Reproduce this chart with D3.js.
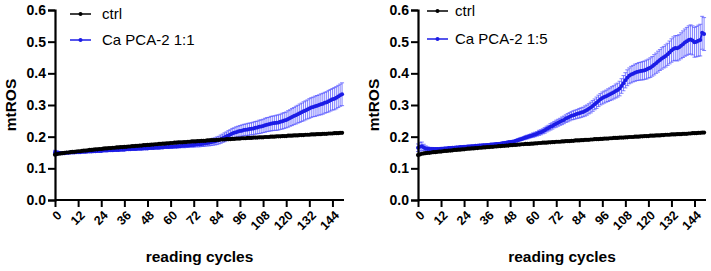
<!DOCTYPE html>
<html><head><meta charset="utf-8">
<script src="https://cdn.jsdelivr.net/npm/d3@7"></script>
<style>body{margin:0;background:#fff}svg{display:block}text{font-family:"Liberation Sans",Arial,sans-serif}</style>
</head><body>
<svg id="chart" width="711" height="271"></svg>
<script>
const xTicks = [0,12,24,36,48,60,72,84,96,108,120,132,144];
const yTicks = [0.0,0.1,0.2,0.3,0.4,0.5,0.6];
const yLabel = "mtROS";
const xLabel = "reading cycles";
const panelNames = ["ctrl","Ca PCA-2 1:1","Ca PCA-2 1:5"];

const ctrl1 = [
0.143,0.145,0.146,0.147,0.148,0.149,0.150,0.150,0.151,0.152,
0.152,0.153,0.154,0.154,0.155,0.156,0.156,0.157,0.158,0.158,
0.159,0.160,0.160,0.161,0.161,0.162,0.163,0.163,0.164,0.164,
0.165,0.165,0.166,0.166,0.167,0.167,0.168,0.168,0.169,0.169,
0.170,0.170,0.171,0.171,0.172,0.172,0.173,0.173,0.174,0.174,
0.175,0.175,0.176,0.176,0.177,0.177,0.178,0.178,0.179,0.179,
0.180,0.180,0.181,0.181,0.182,0.182,0.182,0.183,0.183,0.184,
0.184,0.185,0.185,0.185,0.186,0.186,0.187,0.187,0.187,0.188,
0.188,0.189,0.189,0.189,0.190,0.190,0.191,0.191,0.191,0.192,
0.192,0.192,0.193,0.193,0.194,0.194,0.194,0.195,0.195,0.195,
0.196,0.196,0.196,0.197,0.197,0.197,0.198,0.198,0.198,0.199,
0.199,0.199,0.200,0.200,0.200,0.201,0.201,0.201,0.202,0.202,
0.202,0.203,0.203,0.203,0.204,0.204,0.204,0.205,0.205,0.205,
0.206,0.206,0.206,0.207,0.207,0.207,0.208,0.208,0.208,0.209,
0.209,0.209,0.210,0.210,0.210,0.211,0.211,0.211,0.212,0.212];

const treat1 = [
0.151,0.150,0.149,0.148,0.148,0.148,0.149,0.149,0.150,0.150,
0.150,0.151,0.151,0.151,0.152,0.152,0.152,0.153,0.153,0.153,
0.154,0.154,0.155,0.155,0.155,0.156,0.156,0.156,0.157,0.157,
0.157,0.158,0.158,0.158,0.159,0.159,0.159,0.160,0.160,0.160,
0.161,0.161,0.161,0.162,0.162,0.162,0.163,0.163,0.163,0.164,
0.164,0.164,0.165,0.165,0.165,0.166,0.166,0.167,0.167,0.167,
0.168,0.168,0.169,0.169,0.170,0.170,0.171,0.171,0.172,0.172,
0.173,0.174,0.174,0.175,0.176,0.176,0.177,0.178,0.179,0.180,
0.181,0.182,0.184,0.185,0.187,0.189,0.192,0.195,0.198,0.201,
0.204,0.207,0.210,0.212,0.214,0.216,0.218,0.219,0.221,0.222,
0.223,0.224,0.225,0.226,0.228,0.229,0.231,0.232,0.234,0.236,
0.238,0.239,0.241,0.242,0.243,0.244,0.245,0.247,0.249,0.251,
0.253,0.256,0.259,0.262,0.265,0.268,0.271,0.274,0.277,0.280,
0.283,0.286,0.289,0.292,0.294,0.296,0.298,0.300,0.302,0.304,
0.307,0.309,0.312,0.315,0.318,0.320,0.323,0.327,0.331,0.334];

const err1 = [
0.006,0.005,0.004,0.004,0.003,0.003,0.003,0.003,0.003,0.003,
0.003,0.003,0.003,0.003,0.003,0.003,0.003,0.003,0.003,0.003,
0.003,0.003,0.003,0.003,0.003,0.003,0.003,0.003,0.003,0.003,
0.003,0.003,0.003,0.003,0.003,0.003,0.003,0.003,0.003,0.003,
0.003,0.003,0.003,0.003,0.003,0.003,0.003,0.003,0.003,0.003,
0.003,0.003,0.003,0.003,0.003,0.003,0.003,0.003,0.003,0.003,
0.004,0.004,0.004,0.005,0.005,0.005,0.005,0.006,0.006,0.006,
0.006,0.007,0.007,0.007,0.008,0.008,0.008,0.009,0.009,0.009,
0.010,0.010,0.011,0.011,0.012,0.012,0.013,0.013,0.014,0.014,
0.015,0.015,0.016,0.016,0.017,0.017,0.017,0.018,0.018,0.018,
0.019,0.019,0.019,0.020,0.020,0.020,0.021,0.021,0.021,0.022,
0.022,0.022,0.023,0.023,0.023,0.024,0.024,0.024,0.025,0.025,
0.025,0.026,0.026,0.027,0.027,0.028,0.028,0.029,0.029,0.030,
0.030,0.030,0.031,0.031,0.031,0.032,0.032,0.032,0.033,0.033,
0.033,0.033,0.034,0.034,0.034,0.035,0.035,0.035,0.035,0.036];

const ctrl2 = [
0.142,0.144,0.146,0.147,0.148,0.149,0.149,0.150,0.151,0.151,
0.152,0.153,0.153,0.154,0.155,0.155,0.156,0.156,0.157,0.158,
0.158,0.159,0.159,0.160,0.160,0.161,0.162,0.162,0.163,0.163,
0.164,0.164,0.165,0.165,0.166,0.166,0.167,0.167,0.168,0.168,
0.169,0.169,0.170,0.170,0.171,0.171,0.172,0.172,0.173,0.173,
0.174,0.174,0.175,0.175,0.176,0.176,0.177,0.177,0.177,0.178,
0.178,0.179,0.179,0.180,0.180,0.181,0.181,0.181,0.182,0.182,
0.183,0.183,0.184,0.184,0.184,0.185,0.185,0.186,0.186,0.186,
0.187,0.187,0.188,0.188,0.188,0.189,0.189,0.190,0.190,0.190,
0.191,0.191,0.192,0.192,0.192,0.193,0.193,0.194,0.194,0.194,
0.195,0.195,0.196,0.196,0.196,0.197,0.197,0.197,0.198,0.198,
0.199,0.199,0.199,0.200,0.200,0.200,0.201,0.201,0.202,0.202,
0.202,0.203,0.203,0.203,0.204,0.204,0.204,0.205,0.205,0.206,
0.206,0.206,0.207,0.207,0.207,0.208,0.208,0.208,0.209,0.209,
0.209,0.210,0.210,0.211,0.211,0.211,0.212,0.212,0.213,0.213];

const treat2 = [
0.165,0.168,0.170,0.166,0.163,0.162,0.161,0.161,0.161,0.161,
0.161,0.161,0.162,0.162,0.163,0.163,0.164,0.164,0.165,0.165,
0.166,0.166,0.167,0.167,0.168,0.168,0.169,0.169,0.170,0.170,
0.171,0.171,0.172,0.172,0.173,0.173,0.174,0.174,0.175,0.175,
0.176,0.177,0.177,0.178,0.179,0.180,0.181,0.182,0.183,0.184,
0.185,0.187,0.189,0.191,0.193,0.195,0.197,0.199,0.201,0.203,
0.205,0.207,0.209,0.212,0.214,0.217,0.220,0.224,0.227,0.231,
0.234,0.238,0.241,0.244,0.247,0.250,0.253,0.257,0.260,0.263,
0.266,0.268,0.270,0.272,0.274,0.276,0.278,0.281,0.284,0.288,
0.292,0.297,0.302,0.307,0.313,0.318,0.322,0.325,0.328,0.331,
0.334,0.337,0.340,0.344,0.347,0.352,0.360,0.369,0.378,0.386,
0.392,0.396,0.399,0.402,0.404,0.406,0.407,0.408,0.410,0.412,
0.415,0.418,0.422,0.427,0.432,0.437,0.442,0.447,0.451,0.455,
0.460,0.466,0.472,0.477,0.480,0.479,0.482,0.487,0.492,0.497,
0.501,0.505,0.507,0.504,0.498,0.500,0.503,0.505,0.528,0.524];

const err2 = [
0.012,0.014,0.013,0.010,0.008,0.006,0.005,0.005,0.004,0.004,
0.004,0.004,0.004,0.004,0.004,0.004,0.004,0.004,0.004,0.004,
0.004,0.004,0.004,0.004,0.004,0.004,0.004,0.004,0.004,0.004,
0.004,0.004,0.004,0.004,0.004,0.004,0.004,0.004,0.004,0.004,
0.004,0.004,0.004,0.004,0.004,0.004,0.004,0.004,0.004,0.004,
0.004,0.004,0.005,0.005,0.005,0.005,0.006,0.006,0.006,0.006,
0.007,0.007,0.007,0.008,0.008,0.008,0.009,0.009,0.009,0.010,
0.010,0.010,0.011,0.011,0.011,0.012,0.012,0.012,0.013,0.013,
0.013,0.014,0.014,0.014,0.015,0.015,0.015,0.016,0.016,0.016,
0.017,0.017,0.017,0.018,0.018,0.018,0.019,0.019,0.019,0.020,
0.020,0.021,0.021,0.022,0.022,0.023,0.023,0.024,0.024,0.025,
0.025,0.026,0.026,0.027,0.027,0.028,0.028,0.029,0.029,0.030,
0.030,0.031,0.031,0.032,0.032,0.033,0.033,0.034,0.034,0.035,
0.035,0.036,0.037,0.038,0.039,0.040,0.040,0.041,0.042,0.043,
0.044,0.045,0.046,0.046,0.047,0.048,0.049,0.050,0.052,0.052];

const BLUE = "#1c1ce6";
const svg = d3.select("#chart");

const panels = [
  {x0:55, x1:344, ctrl:ctrl1, treat:treat1, err:err1, name:panelNames[1], yl:11, legX:70, legY:[14,40], legT:102},
  {x0:418, x1:706, ctrl:ctrl2, treat:treat2, err:err2, name:panelNames[2], yl:374, legX:427, legY:[11,39], legT:455}
];

panels.forEach(p => {
  const g = svg.append("g");
  const x = d3.scaleLinear().domain([0,150]).range([p.x0,p.x1]);
  const y = d3.scaleLinear().domain([0,0.6]).range([200,10]);

  // error bars
  const eb = g.append("g").attr("stroke","#5050ff").attr("stroke-width",0.8).attr("stroke-opacity",0.9);
  p.treat.forEach((v,i) => {
    const e = p.err[i], cx = x(i);
    eb.append("line").attr("x1",cx).attr("x2",cx).attr("y1",y(v-e)).attr("y2",y(v+e));
    eb.append("line").attr("x1",cx-2).attr("x2",cx+2).attr("y1",y(v+e)).attr("y2",y(v+e));
    eb.append("line").attr("x1",cx-2).attr("x2",cx+2).attr("y1",y(v-e)).attr("y2",y(v-e));
  });
  const line = d3.line().x((d,i)=>x(i)).y(d=>y(d));
  g.append("path").datum(p.treat).attr("d",line).attr("fill","none").attr("stroke",BLUE).attr("stroke-width",1.8);
  g.append("g").selectAll("circle").data(p.treat).join("circle")
    .attr("cx",(d,i)=>x(i)).attr("cy",d=>y(d)).attr("r",2).attr("fill",BLUE);

  g.append("path").datum(p.ctrl).attr("d",line).attr("fill","none").attr("stroke","#000").attr("stroke-width",2);
  g.append("g").selectAll("circle").data(p.ctrl).join("circle")
    .attr("cx",(d,i)=>x(i)).attr("cy",d=>y(d)).attr("r",2.1).attr("fill","#000");

  // axes
  const yAx = g.append("g").attr("transform",`translate(${p.x0},0)`)
    .call(d3.axisLeft(y).tickValues(yTicks).tickFormat(d3.format(".1f")).tickSize(7).tickPadding(2));
  const xAx = g.append("g").attr("transform",`translate(0,200)`)
    .call(d3.axisBottom(x).tickValues(xTicks).tickSize(7).tickSizeOuter(0));
  [yAx,xAx].forEach(a=>{
    a.select(".domain").attr("stroke","#000").attr("stroke-width",2.2);
    a.selectAll(".tick line").attr("stroke","#000").attr("stroke-width",2);
    a.selectAll("text").attr("fill","#000").attr("font-weight","bold").attr("font-family","Liberation Sans, Arial, sans-serif");
  });
  yAx.selectAll("text").attr("font-size",14);
  xAx.select(".domain").attr("d",`M${p.x0},0H${p.x1}`);
  xAx.selectAll("text").attr("font-size",12.5).attr("text-anchor","end")
    .attr("dy",null).attr("y",0).attr("x",0)
    .attr("transform","translate(7,16) rotate(-45)");

  // labels
  g.append("text").attr("transform",`translate(${p.yl+5},105) rotate(-90)`)
    .attr("text-anchor","middle").attr("font-size",15.5).attr("font-weight","bold").text(yLabel);
  g.append("text").attr("x",(p.x0+p.x1)/2).attr("y",262)
    .attr("text-anchor","middle").attr("font-size",15.5).attr("font-weight","bold").text(xLabel);

  // legend
  const names = [panelNames[0], p.name], cols = ["#000", BLUE];
  names.forEach((n,k)=>{
    const ly = p.legY[k];
    g.append("line").attr("x1",p.legX).attr("x2",p.legX+21).attr("y1",ly).attr("y2",ly).attr("stroke",cols[k]).attr("stroke-width",1.5);
    g.append("circle").attr("cx",p.legX+10.5).attr("cy",ly).attr("r",2).attr("fill",cols[k]);
    g.append("text").attr("x",p.legT).attr("y",ly+5).attr("font-size",15).attr("fill","#000").text(n);
  });
});
</script>
</body></html>
